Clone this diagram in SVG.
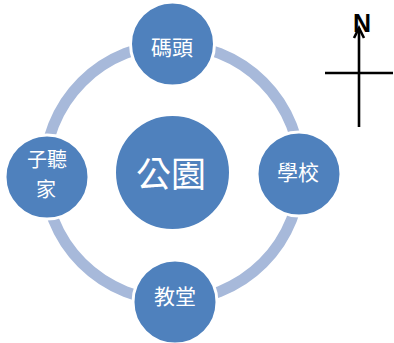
<svg xmlns="http://www.w3.org/2000/svg" width="394" height="343" viewBox="0 0 394 343">
<style>
.node{fill:#4F81BD;stroke:#ffffff;stroke-width:3}
.lbl{fill:#ffffff;font-family:"Noto Sans CJK TC","Noto Sans CJK SC",sans-serif;text-anchor:middle;dominant-baseline:central}
.ring{fill:none;stroke:#A7B9DA;stroke-width:11}
.compass{stroke:#000;stroke-width:2.6;fill:none}
</style>
<rect width="394" height="343" fill="#ffffff"/>
<g id="connectors">
<circle class="ring" cx="172.5" cy="172.5" r="128"/>
</g>
<g id="park">
<circle class="node" cx="172.5" cy="172.5" r="58"/>
<text class="lbl" x="171" y="171" font-size="35">公園</text>
</g>
<g id="pier">
<circle class="node" cx="172.5" cy="44" r="42"/>
<text class="lbl" x="172" y="46" font-size="21">碼頭</text>
</g>
<g id="school">
<circle class="node" cx="299" cy="174" r="42"/>
<text class="lbl" x="298" y="171" font-size="21">學校</text>
</g>
<g id="church">
<circle class="node" cx="175" cy="302" r="42"/>
<text class="lbl" x="175" y="295" font-size="21">教堂</text>
</g>
<g id="home">
<circle class="node" cx="47" cy="177" r="42"/>
<text class="lbl" x="47" y="158" font-size="20">子聽</text>
<text class="lbl" x="46" y="188" font-size="20">家</text>
</g>
<g id="compass">
<line class="compass" x1="359" y1="28" x2="359" y2="127"/>
<line class="compass" x1="325" y1="73" x2="393" y2="73"/>
<polyline class="compass" points="354,38 359,28 364,38"/>
<text x="362" y="32" font-family="Liberation Sans, Arial, sans-serif" font-weight="bold" font-size="25" text-anchor="middle">N</text>
</g>
</svg>
